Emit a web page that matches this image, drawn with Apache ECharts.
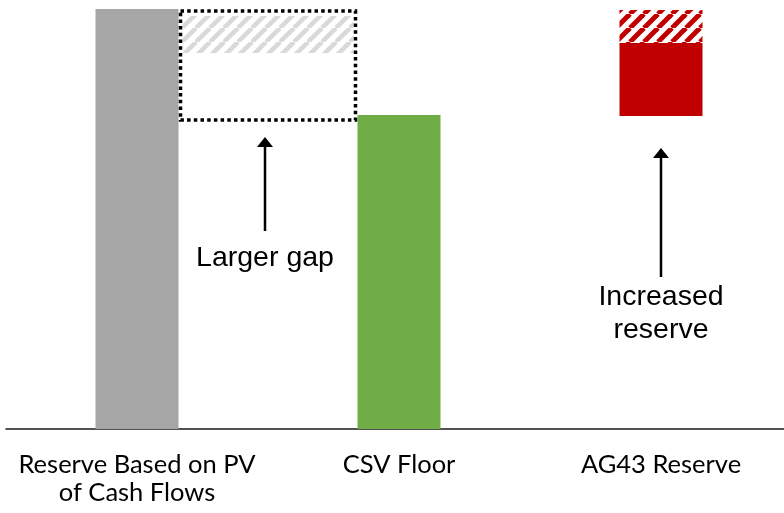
<!DOCTYPE html>
<html>
<head>
<meta charset="utf-8">
<script src="https://cdn.jsdelivr.net/npm/echarts@6/dist/echarts.min.js"></script>
<style>html,body{margin:0;padding:0;background:#fff;}#c{width:784px;height:513px;}</style>
</head>
<body>
<div id="c"></div>
<script>
// ---- data (arbitrary reserve units) ----
const categories = ['Reserve Based on PV\nof Cash Flows', 'CSV Floor', 'AG43 Reserve'];
const pvReserve = 420;              // grey bar
const csvFloor = 314;               // green bar
const ag43Range = [313, 386, 419];  // floating red bar: bottom, solid top, hatched top
const gapBox = [418, 309];          // dotted "gap" box: top, bottom
const gapHatch = [413, 376];        // grey hatched part of the gap: top, bottom
const arrowLabels = ['Larger gap', 'Increased\nreserve'];
const arrowTips = [292, 281];
const arrowTails = [198, 152];
const arrowTextAt = [171, 115];

// ---- styling ----
const BAR_W = 83;
const GREY = '#a6a6a6', GREEN = '#70ad47', RED = '#c00000';

function hatch(fg, bg, p, w) {
  const c = document.createElement('canvas');
  c.width = p; c.height = p;
  const g = c.getContext('2d');
  g.fillStyle = bg; g.fillRect(0, 0, p, p);
  g.strokeStyle = fg; g.lineWidth = w;
  for (let k = -1; k <= 1; k++) {
    g.beginPath(); g.moveTo(k * p, p); g.lineTo(k * p + p, 0); g.stroke();
  }
  return { image: c, repeat: 'repeat' };
}
const redHatch = hatch(RED, '#ffffff', 14, 5);
const greyHatch = hatch('#d9d9d9', '#ffffff', 14, 4.5);

const chart = echarts.init(document.getElementById('c'), null, { renderer: 'canvas' });

const option = {
  animation: false,
  grid: { left: 6, width: 786, top: 9, height: 420, containLabel: false, outerBoundsMode: 'none' },
  xAxis: {
    type: 'category',
    data: categories,
    axisLine: { lineStyle: { color: '#1a1a1a', width: 1.5 } },
    axisTick: { show: false },
    axisLabel: {
      interval: 0, margin: 22, color: '#000',
      fontFamily: 'Lato', fontSize: 25.5, lineHeight: 28
    }
  },
  yAxis: { type: 'value', min: 0, max: 420, show: false, splitLine: { show: false } },
  series: [
    {
      type: 'bar', stack: 'main', barWidth: BAR_W,
      data: [
        { value: pvReserve, itemStyle: { color: GREY } },
        { value: csvFloor, itemStyle: { color: GREEN } },
        { value: ag43Range[0], itemStyle: { color: 'rgba(0,0,0,0)' } }
      ]
    },
    {
      type: 'bar', stack: 'main', barWidth: BAR_W,
      itemStyle: { color: RED },
      data: ['-', '-', ag43Range[1] - ag43Range[0]]
    },
    {
      type: 'bar', stack: 'main', barWidth: BAR_W,
      itemStyle: { color: redHatch },
      data: ['-', '-', ag43Range[2] - ag43Range[1]]
    },
    {
      type: 'custom', silent: true, z: 5,
      data: [[0, 1, gapBox[0], gapBox[1], gapHatch[0], gapHatch[1]]],
      renderItem: function (params, api) {
        const xL = api.coord([api.value(0), 0])[0] + BAR_W / 2 + 2;
        const xR = api.coord([api.value(1), 0])[0] - BAR_W / 2 - 2;
        const yT = api.coord([0, api.value(2)])[1];
        const yB = api.coord([0, api.value(3)])[1];
        const hT = api.coord([0, api.value(4)])[1];
        const hB = api.coord([0, api.value(5)])[1];
        return {
          type: 'group',
          children: [
            { type: 'rect', shape: { x: xL + 2, y: hT, width: xR - xL - 4, height: hB - hT },
              style: { fill: greyHatch } },
            { type: 'rect', shape: { x: xL, y: yT, width: xR - xL, height: yB - yT },
              style: { fill: null, stroke: '#000', lineWidth: 3.5, lineDash: [3.5, 3.2] } }
          ]
        };
      }
    },
    {
      type: 'custom', silent: true, z: 6,
      data: [[0, 1, arrowTips[0], arrowTails[0], arrowTextAt[0], 0],
             [2, 2, arrowTips[1], arrowTails[1], arrowTextAt[1], 1]],
      renderItem: function (params, api) {
        const x = (api.coord([api.value(0), 0])[0] + api.coord([api.value(1), 0])[0]) / 2 - (api.value(0) !== api.value(1) ? 3 : 0);
        const yTip = api.coord([0, api.value(2)])[1];
        const yTail = api.coord([0, api.value(3)])[1];
        const yTxt = api.coord([0, api.value(4)])[1];
        const label = arrowLabels[api.value(5)];
        return {
          type: 'group',
          children: [
            { type: 'line', shape: { x1: x, y1: yTail, x2: x, y2: yTip + 8 },
              style: { stroke: '#000', lineWidth: 2.5 } },
            { type: 'polygon', shape: { points: [[x, yTip], [x - 8, yTip + 10], [x + 8, yTip + 10]] },
              style: { fill: '#000' } },
            { type: 'text', x: x, y: yTxt,
              style: { text: label, align: 'center', verticalAlign: 'middle',
                       font: '28.5px "Liberation Sans", Arial, sans-serif', fill: '#000', lineHeight: 33 } }
          ]
        };
      }
    }
  ]
};
chart.setOption(option);
</script>
</body>
</html>
